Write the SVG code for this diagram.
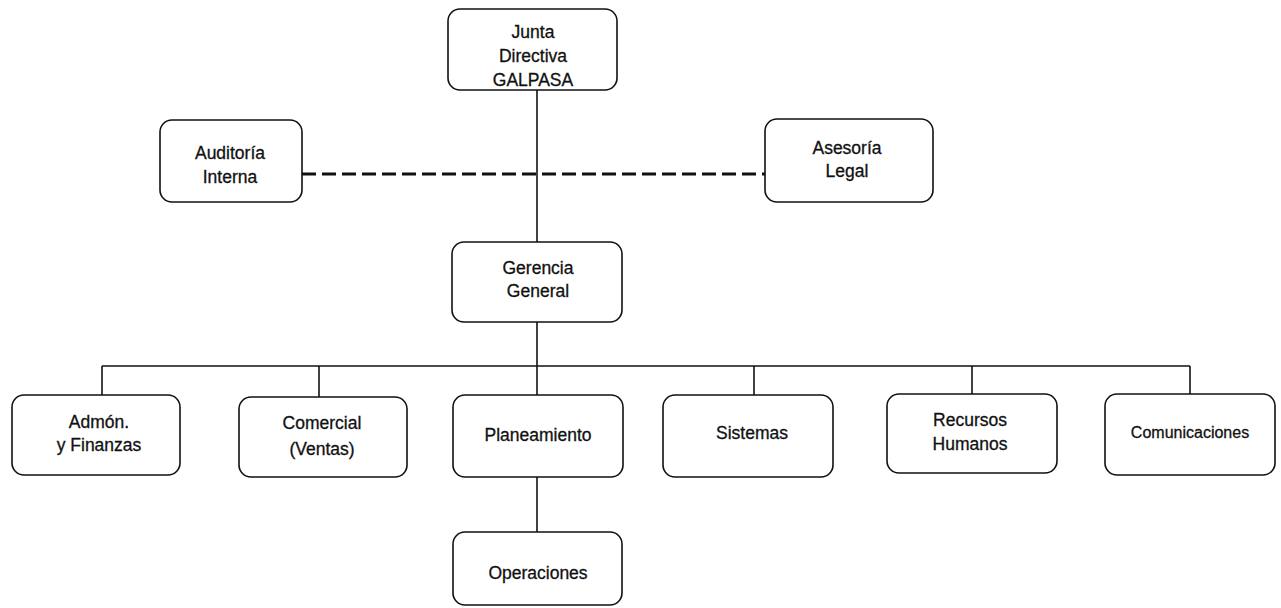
<svg xmlns="http://www.w3.org/2000/svg" width="1281" height="608" viewBox="0 0 1281 608">
<style>
.box{fill:#fff;stroke:#111;stroke-width:1.6}
.t{font-family:"Liberation Sans",Arial,sans-serif;font-size:17.5px;fill:#111;stroke:#111;stroke-width:0.3;text-anchor:middle}
.s{font-size:16px}
.ln{stroke:#111;stroke-width:1.6;fill:none}
.dash{stroke:#111;stroke-width:3;stroke-dasharray:14 6;fill:none}
</style>
<rect width="1281" height="608" fill="#fff"/>
<g id="connectors">
<line class="ln" x1="537" y1="90" x2="537" y2="242"/>
<line class="dash" x1="302" y1="174" x2="765" y2="174"/>
<line class="ln" x1="537" y1="322" x2="537" y2="395"/>
<line class="ln" x1="102" y1="366" x2="1190" y2="366"/>
<line class="ln" x1="102" y1="366" x2="102" y2="395"/>
<line class="ln" x1="319" y1="366" x2="319" y2="397"/>
<line class="ln" x1="754" y1="366" x2="754" y2="395"/>
<line class="ln" x1="972" y1="366" x2="972" y2="394"/>
<line class="ln" x1="1190" y1="366" x2="1190" y2="394"/>
<line class="ln" x1="537" y1="477" x2="537" y2="532"/>
</g>
<g id="junta">
<rect class="box" x="448" y="9" width="169" height="81" rx="12"/>
<text class="t" x="533" y="38">Junta</text>
<text class="t" x="533" y="62">Directiva</text>
<text class="t" x="533" y="86">GALPASA</text>
</g>
<g id="auditoria">
<rect class="box" x="160" y="120" width="142" height="82" rx="12"/>
<text class="t" x="230" y="159">Auditoría</text>
<text class="t" x="230" y="183">Interna</text>
</g>
<g id="asesoria">
<rect class="box" x="765" y="119" width="168" height="83" rx="12"/>
<text class="t" x="847" y="154">Asesoría</text>
<text class="t" x="847" y="177">Legal</text>
</g>
<g id="gerencia">
<rect class="box" x="452" y="242" width="170" height="80" rx="12"/>
<text class="t" x="538" y="274">Gerencia</text>
<text class="t" x="538" y="297">General</text>
</g>
<g id="admon">
<rect class="box" x="12" y="395" width="168" height="80" rx="12"/>
<text class="t" x="99" y="428">Admón.</text>
<text class="t" x="99" y="451">y Finanzas</text>
</g>
<g id="comercial">
<rect class="box" x="239" y="397" width="168" height="80" rx="12"/>
<text class="t" x="322" y="429">Comercial</text>
<text class="t" x="322" y="455">(Ventas)</text>
</g>
<g id="planeamiento">
<rect class="box" x="453" y="395" width="170" height="82" rx="12"/>
<text class="t" x="538" y="441">Planeamiento</text>
</g>
<g id="sistemas">
<rect class="box" x="663" y="395" width="170" height="82" rx="12"/>
<text class="t" x="752" y="439">Sistemas</text>
</g>
<g id="rrhh">
<rect class="box" x="887" y="394" width="170" height="79" rx="12"/>
<text class="t" x="970" y="426">Recursos</text>
<text class="t" x="970" y="450">Humanos</text>
</g>
<g id="comunicaciones">
<rect class="box" x="1105" y="394" width="170" height="81" rx="12"/>
<text class="t s" x="1190" y="438">Comunicaciones</text>
</g>
<g id="operaciones">
<rect class="box" x="453" y="532" width="169" height="73" rx="12"/>
<text class="t" x="538" y="579">Operaciones</text>
</g>
</svg>
